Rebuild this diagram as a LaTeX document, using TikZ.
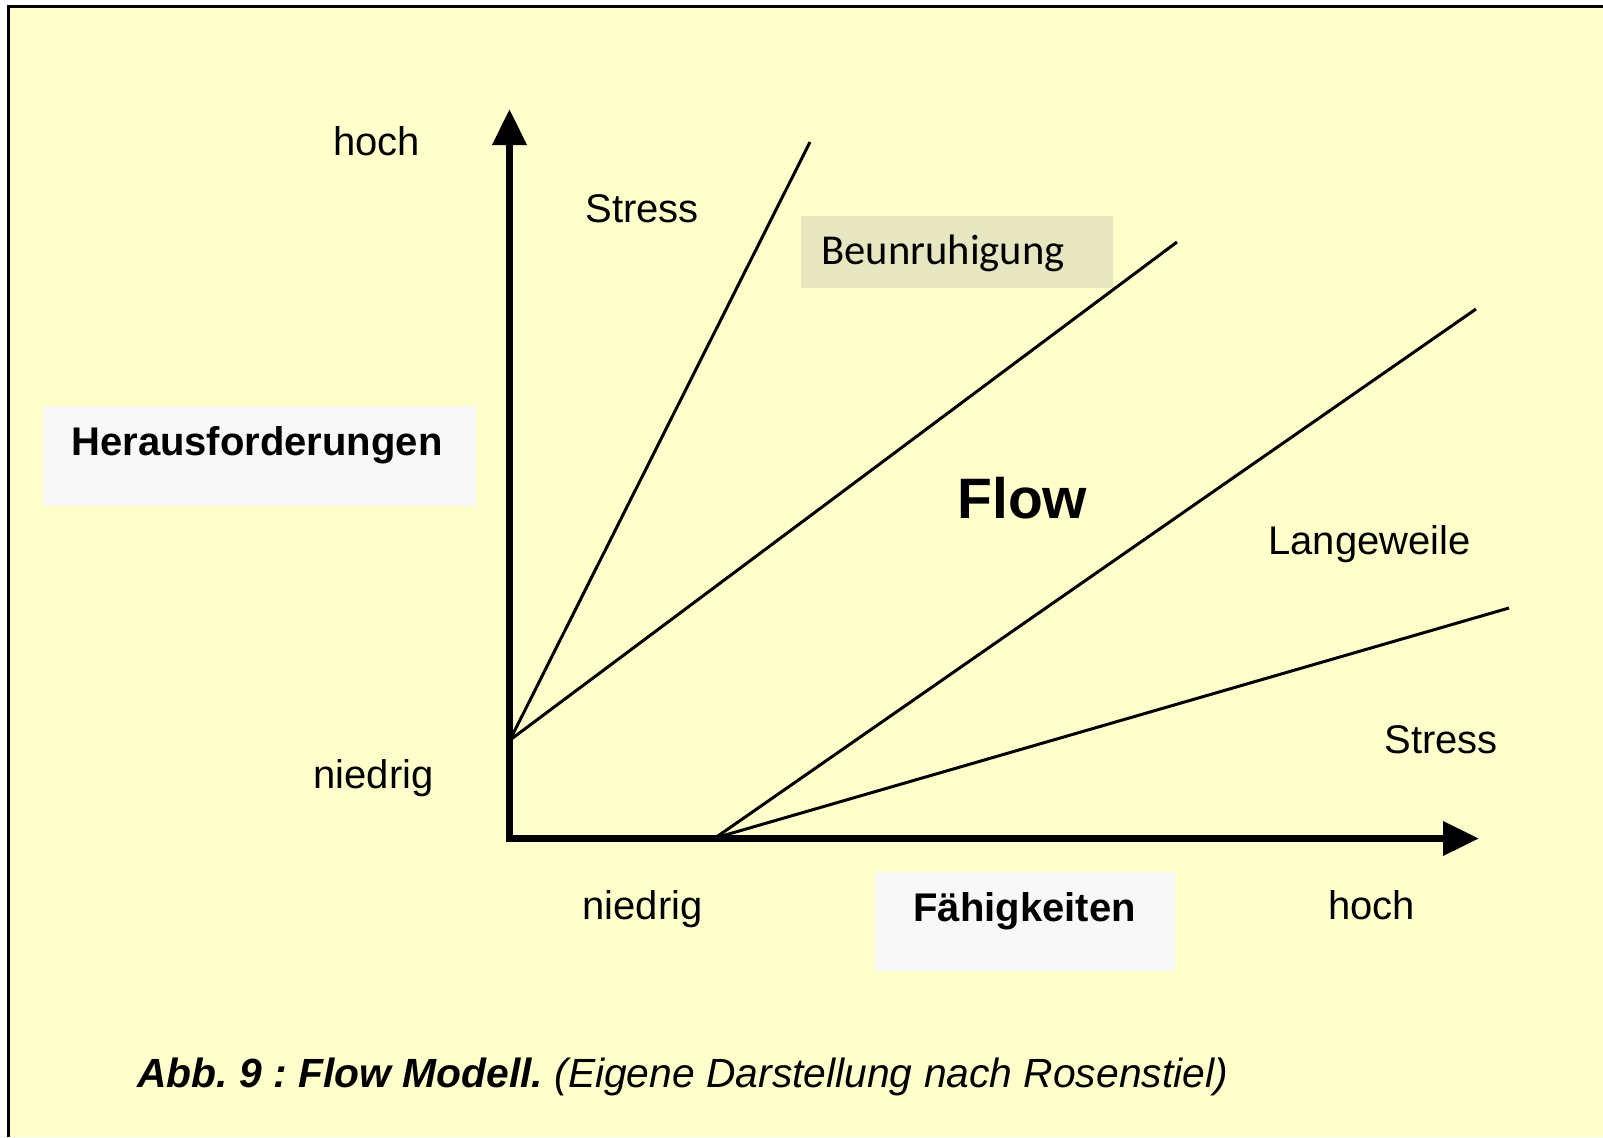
\documentclass[tikz,border=0pt]{standalone}
\usepackage{fontspec}
\setmainfont{Liberation Sans}
\newfontfamily\calib{Carlito}
\usetikzlibrary{arrows.meta}
\definecolor{bgyellow}{HTML}{FFFFCC}
\definecolor{boxgray}{HTML}{F8F8F8}
\definecolor{boxolive}{HTML}{E6E6C1}
\frenchspacing
\begin{document}
\begin{tikzpicture}[x=0.5pt,y=-0.5pt,
  lbl/.style={anchor=base west,inner sep=0pt,font=\fontsize{20}{24}\selectfont},
  axisline/.style={line width=3.5pt,line join=miter,
    {Triangle[length=18pt,width=16.5pt]}-{Triangle[length=18pt,width=16.5pt]}},
  thinline/.style={line width=1.5pt}]
\useasboundingbox (0,0) rectangle (1603,1137);
\fill[white] (0,0) rectangle (1603,1137);
\fill[bgyellow] (8,7) rectangle (1603,1137);
\draw[line width=1.5pt] (8.5,1137) -- (8.5,6);
\draw[line width=1.2pt] (7,6.5) -- (1603,6.5);
% boxes
\fill[boxgray] (43,406) rectangle (476,506);
\fill[boxgray] (875,872) rectangle (1175,971);
\fill[boxolive] (801,216) rectangle (1113,288);
% coordinates
\coordinate (ytip) at (509.5,109);
\coordinate (O) at (509.5,838.5);
\coordinate (xtip) at (1479,838.5);
\coordinate (A) at (510,740);
\coordinate (B) at (715,838);
\coordinate (e1) at (810,142);
\coordinate (e2) at (1177,242);
\coordinate (e3) at (1476,309);
\coordinate (e4) at (1509,608);
% lines
\draw[thinline] (A) -- (e1);
\draw[thinline] (A) -- (e2);
\draw[thinline] (B) -- (e3);
\draw[thinline] (B) -- (e4);
\draw[axisline] (ytip) -- (O) -- (xtip);
% labels
\node[lbl] (hochy) at (333,155) {hoch};
\node[lbl] (niedrigy) at (313,788) {niedrig};
\node[lbl] (stress1) at (585,222) {Stress};
\node[lbl,font=\calib\fontsize{21.3}{25}\selectfont] (beun) at (821,264) {Beunruhigung};
\node[lbl,font=\bfseries\fontsize{20}{24}\selectfont] (heraus) at (71,455) {Herausforderungen};
\node[lbl,font=\bfseries\fontsize{28.5}{32}\selectfont] (flow) at (957,518) {Flow};
\node[lbl] (lang) at (1268,554) {Langeweile};
\node[lbl] (stress2) at (1384,753) {Stress};
\node[lbl] (niedrigx) at (582,919) {niedrig};
\node[lbl,font=\bfseries\fontsize{20}{24}\selectfont] (faeh) at (913,921) {Fähigkeiten};
\node[lbl] (hochx) at (1328,919) {hoch};
\node[lbl,font=\fontsize{20.4}{24}\selectfont] (caption) at (137,1087) {\textbf{\textit{Abb. 9 : Flow Modell.}} \textit{(Eigene Darstellung nach Rosenstiel)}};
\end{tikzpicture}
\end{document}
